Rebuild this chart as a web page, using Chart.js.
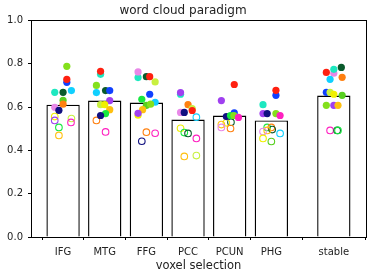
<!DOCTYPE html>
<html lang="en">
<head>
<meta charset="UTF-8">
<title>word cloud paradigm</title>
<script src="https://cdn.jsdelivr.net/npm/chart.js@4/dist/chart.umd.min.js"></script>
<style>
  html, body { margin: 0; padding: 0; background: #fff; }
  #wrap { width: 371px; height: 273px; }
</style>
</head>
<body>
<div id="wrap"><canvas id="myChart"></canvas></div>
<script>
    // categories and where they sit on the x axis (stable is set apart)
    const categories = ['IFG', 'MTG', 'FFG', 'PCC', 'PCUN', 'PHG', 'stable'];
    const catX = [0, 1, 2, 3, 4, 5, 6.5];
    const barMeans = [0.611, 0.630, 0.621, 0.542, 0.561, 0.538, 0.653];
    const yTicks = [0, 0.2, 0.4, 0.6, 0.8, 1.0];

    // subject points per category: [jitter, value, subject]
    const filledPts = [
        [[0.09, 0.788, 'lime'], [0.09, 0.714, 'blue'], [0.09, 0.728, 'red'], [-0.2, 0.668, 'turq'], [0.0, 0.668, 'dkgreen'],
         [0.2, 0.676, 'sky'], [0.0, 0.631, 'grass'], [-0.2, 0.599, 'violet'], [0.0, 0.613, 'orange'], [-0.1, 0.585, 'navy']],
        [[-0.1, 0.751, 'turq'], [-0.1, 0.765, 'red'], [-0.2, 0.667, 'sky'], [-0.2, 0.700, 'lime'], [0.02, 0.676, 'dkgreen'],
         [0.12, 0.676, 'blue'], [0.12, 0.630, 'purple'], [-0.1, 0.611, 'yg'], [0.0, 0.611, 'yellow'], [0.12, 0.588, 'gold'],
         [0.02, 0.570, 'green'], [-0.1, 0.561, 'navy']],
        [[-0.2, 0.736, 'turq'], [-0.2, 0.762, 'violet'], [0.0, 0.740, 'dkgreen'], [0.08, 0.740, 'red'], [0.21, 0.716, 'yg'],
         [0.08, 0.659, 'blue'], [-0.11, 0.636, 'green'], [0.21, 0.622, 'sky'], [0.0, 0.608, 'grass'], [0.1, 0.613, 'lime'],
         [-0.09, 0.588, 'gold'], [-0.2, 0.562, 'yellow'], [-0.2, 0.571, 'purple']],
        [[-0.18, 0.659, 'turq'], [-0.18, 0.667, 'purple'], [0.0, 0.611, 'orange'], [0.1, 0.593, 'yg'], [0.1, 0.584, 'red'],
         [-0.18, 0.575, 'violet'], [-0.09, 0.575, 'navy']],
        [[0.11, 0.704, 'red'], [-0.2, 0.630, 'purple'], [0.11, 0.573, 'blue'], [-0.08, 0.556, 'navy'], [0.02, 0.561, 'green'],
         [0.1, 0.561, 'lime'], [0.21, 0.552, 'magenta']],
        [[0.11, 0.654, 'blue'], [0.11, 0.677, 'red'], [-0.2, 0.611, 'turq'], [-0.2, 0.570, 'purple'], [-0.1, 0.570, 'navy'],
         [0.11, 0.570, 'lime'], [0.21, 0.561, 'magenta']],
        [[0.18, 0.783, 'dkgreen'], [0.0, 0.756, 'violet'], [0.0, 0.774, 'turq'], [-0.18, 0.760, 'red'], [0.2, 0.737, 'orange'],
         [-0.09, 0.728, 'sky'], [-0.18, 0.668, 'blue'], [-0.09, 0.668, 'yg'], [0.0, 0.659, 'yellow'], [0.2, 0.654, 'grass'],
         [-0.18, 0.608, 'lime'], [0.0, 0.608, 'purple'], [0.1, 0.608, 'gold']]
    ];
    const hollowPts = [
        [[-0.2, 0.556, 'yellow'], [-0.2, 0.538, 'purple'], [0.2, 0.547, 'yg'], [0.19, 0.529, 'magenta'], [-0.1, 0.506, 'green'],
         [-0.1, 0.469, 'gold']],
        [[-0.2, 0.538, 'orange'], [0.02, 0.485, 'magenta']],
        [[0.0, 0.484, 'orange'], [0.21, 0.479, 'magenta'], [-0.11, 0.442, 'navy']],
        [[0.2, 0.553, 'sky'], [-0.18, 0.502, 'yellow'], [-0.09, 0.482, 'green'], [0.0, 0.478, 'dkgreen'], [0.2, 0.455, 'magenta'],
         [-0.09, 0.372, 'gold'], [0.2, 0.376, 'yg']],
        [[0.03, 0.530, 'dkgreen'], [-0.08, 0.527, 'yellow'], [-0.2, 0.519, 'gold'], [-0.2, 0.506, 'violet'], [0.02, 0.501, 'orange']],
        [[-0.1, 0.506, 'green'], [0.0, 0.506, 'orange'], [0.02, 0.496, 'dkgreen'], [-0.1, 0.492, 'gold'], [-0.2, 0.487, 'violet'],
         [0.21, 0.478, 'sky'], [-0.2, 0.455, 'yellow'], [0.0, 0.441, 'grass']],
        [[-0.09, 0.492, 'magenta'], [0.08, 0.492, 'dkgreen'], [0.1, 0.492, 'green']]
    ];

    const subjectColors = {
        lime: '#84e01c', red: '#ff2010', blue: '#1040ff', turq: '#1ee8c0', dkgreen: '#0a5a2c',
        sky: '#10d0ff', grass: '#58d020', green: '#18e840', orange: '#ff8010', violet: '#e888e8',
        navy: '#101080', purple: '#a040f0', yellow: '#f0f000', gold: '#ffc010', magenta: '#ff20c0',
        yg: '#c8f040'
    };

    function toPoints(lists) {
        const pts = [], cols = [];
        lists.forEach((list, i) => {
            list.forEach(p => {
                pts.push({ x: catX[i] + p[0], y: p[1] });
                cols.push(subjectColors[p[2]]);
            });
        });
        return { pts, cols };
    }
    const filled = toPoints(filledPts);
    const hollow = toPoints(hollowPts);

    // box around the plot like matplotlib spines
    const frame = {
        id: 'frame',
        afterDraw(chart) {
            const a = chart.chartArea, c = chart.ctx;
            c.save();
            c.strokeStyle = '#000';
            c.lineWidth = 1;
            c.strokeRect(Math.round(a.left) + 0.5, Math.round(a.top) + 0.5,
                Math.round(a.right - a.left), Math.round(a.bottom - a.top));
            c.restore();
        }
    };

    const font = 'DejaVu Sans';
    var ctx = document.getElementById('myChart').getContext('2d');
    var chart = new Chart(ctx, {
        type: 'bar',
        data: {
            datasets: [{
                type: 'scatter',
                data: filled.pts,
                pointRadius: 3.6,
                pointBackgroundColor: filled.cols,
                pointBorderColor: filled.cols,
                pointBorderWidth: 0,
                order: 1
            }, {
                type: 'scatter',
                data: hollow.pts,
                pointRadius: 3.3,
                pointBackgroundColor: 'rgba(0,0,0,0)',
                pointBorderColor: hollow.cols,
                pointBorderWidth: 1.1,
                order: 1
            }, {
                type: 'bar',
                data: barMeans.map((v, i) => ({ x: catX[i], y: v })),
                backgroundColor: '#fff',
                borderColor: '#000',
                borderWidth: 1.4,
                categoryPercentage: 1,
                barPercentage: 0.8,
                order: 2
            }]
        },
        options: {
            responsive: true,
            maintainAspectRatio: false,
            animation: false,
            layout: { padding: { left: 0, right: 5, top: 0, bottom: 0 } },
            plugins: {
                legend: { display: false },
                tooltip: { enabled: false },
                title: {
                    display: true,
                    text: 'word cloud paradigm',
                    color: '#222',
                    font: { family: font, size: 12, weight: 'normal' },
                    padding: { top: 4, bottom: 2 }
                }
            },
            scales: {
                x: {
                    type: 'linear',
                    min: -0.77,
                    max: 7.27,
                    offset: false,
                    afterBuildTicks: s => { s.ticks = catX.map(v => ({ value: v })); },
                    afterFit: s => { s.height = 36; },
                    grid: { display: true, drawOnChartArea: false, drawTicks: true, tickLength: 3, color: '#000' },
                    border: { display: false },
                    ticks: {
                        autoSkip: false,
                        maxRotation: 0,
                        padding: 6,
                        color: '#222',
                        font: { family: font, size: 10 },
                        callback: (v, i) => categories[i]
                    },
                    title: {
                        display: true,
                        text: 'voxel selection',
                        color: '#222',
                        font: { family: font, size: 11.5 },
                        padding: { top: 0, bottom: 0 }
                    }
                },
                y: {
                    min: 0,
                    max: 1,
                    afterBuildTicks: s => { s.ticks = yTicks.map(v => ({ value: v })); },
                    afterFit: s => { s.width = 31; },
                    grid: { display: true, drawOnChartArea: false, drawTicks: true, tickLength: 3, color: '#000' },
                    border: { display: false },
                    ticks: {
                        padding: 5,
                        color: '#222',
                        font: { family: font, size: 10 },
                        callback: v => v.toFixed(1)
                    }
                }
            }
        },
        plugins: [frame]
    });
</script>
</body>
</html>
